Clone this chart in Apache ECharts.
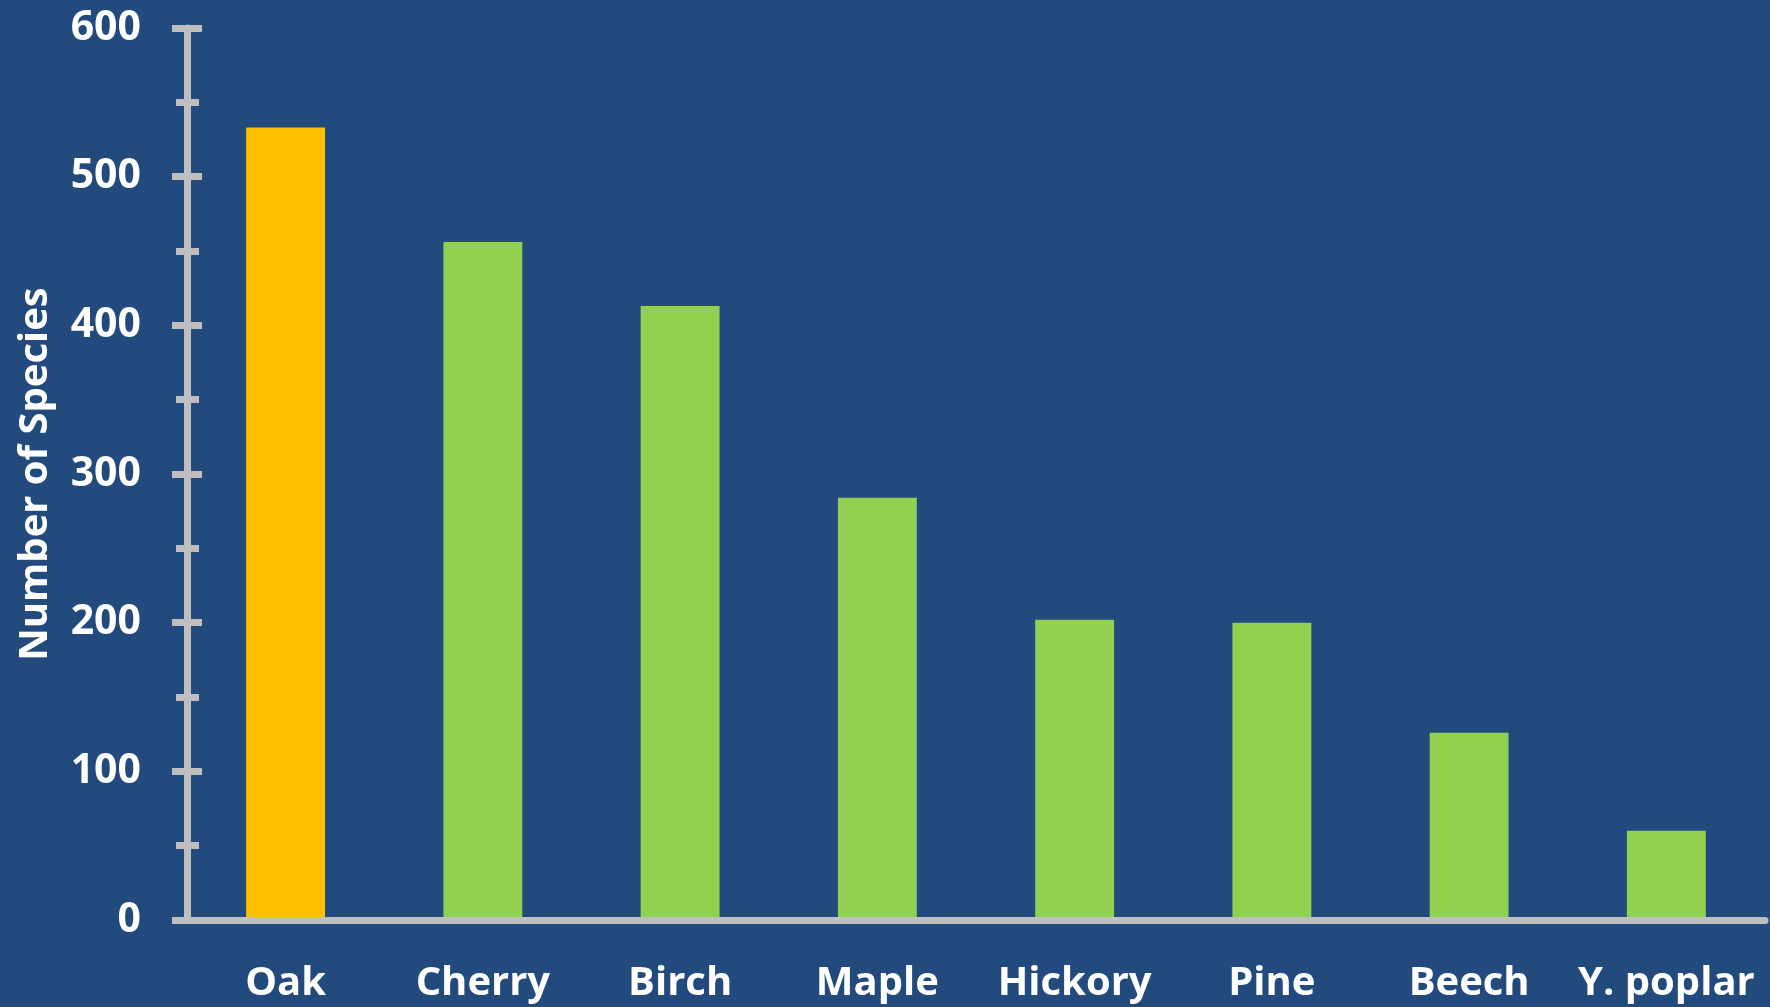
<!DOCTYPE html>
<html>
<head>
<meta charset="utf-8">
<script src="https://cdn.jsdelivr.net/npm/echarts@6/dist/echarts.min.js"></script>
<style>
html,body{margin:0;padding:0;background:#224A7C;}
#chart{width:1770px;height:1007px;}
</style>
</head>
<body>
<div id="chart"></div>
<script>
const categories = ['Oak', 'Cherry', 'Birch', 'Maple', 'Hickory', 'Pine', 'Beech', 'Y. poplar'];
const speciesCounts = [533, 456, 413, 284, 202, 200, 126, 60];
const highlightCategory = 'Oak';
const yTicks = { min: 0, max: 600, interval: 100 };
const yAxisTitle = 'Number of Species';

const FONT = '"Open Sans", sans-serif';
const AXIS_GRAY = '#BFBFBF';
const chart = echarts.init(document.getElementById('chart'));
chart.setOption({
  backgroundColor: '#224A7C',
  animation: false,
  grid: { left: 187, right: 5, top: 28, bottom: 87, containLabel: false, outerBoundsMode: 'none' },
  xAxis: {
    type: 'category',
    data: categories,
    z: 5,
    axisLine: { show: true, lineStyle: { color: AXIS_GRAY, width: 7 } },
    axisTick: { show: false },
    axisLabel: { interval: 0, hideOverlap: false, color: '#FFFFFF', fontFamily: FONT, fontWeight: 'bold', fontSize: 40, margin: 44 }
  },
  yAxis: [
    {
      type: 'value',
      min: yTicks.min, max: yTicks.max, interval: yTicks.interval,
      position: 'left',
      name: yAxisTitle,
      nameLocation: 'middle',
      nameGap: 131,
      nameRotate: 90,
      nameMoveOverlap: false,
      nameTextStyle: { color: '#FFFFFF', fontFamily: FONT, fontWeight: 'bold', fontSize: 40 },
      z: 5,
      axisLine: { show: true, lineStyle: { color: AXIS_GRAY, width: 7 } },
      axisTick: { show: true, length: 15, lineStyle: { color: AXIS_GRAY, width: 7 } },
      minorTick: { show: true, splitNumber: 2, length: 11, lineStyle: { color: AXIS_GRAY, width: 7 } },
      splitLine: { show: false },
      axisLabel: { color: '#FFFFFF', fontFamily: FONT, fontWeight: 'bold', fontSize: 41, margin: 46 }
    },
    {
      type: 'value',
      min: yTicks.min, max: yTicks.max, interval: yTicks.interval,
      position: 'left',
      offset: 0,
      z: 5,
      axisLine: { show: false },
      axisTick: { show: true, inside: true, length: 15, lineStyle: { color: AXIS_GRAY, width: 7 } },
      minorTick: { show: true, splitNumber: 2, length: 12, lineStyle: { color: AXIS_GRAY, width: 7 } },
      splitLine: { show: false },
      axisLabel: { show: false }
    }
  ],
  series: [{
    type: 'bar',
    barWidth: '40%',
    data: speciesCounts.map((v, i) => ({
      value: v,
      itemStyle: { color: categories[i] === highlightCategory ? '#FFC000' : '#92D050' }
    }))
  }]
});
</script>
</body>
</html>
